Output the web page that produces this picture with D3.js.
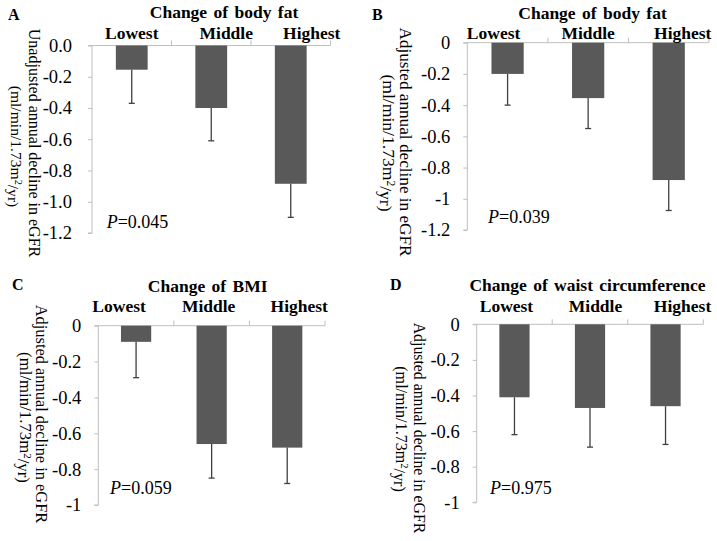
<!DOCTYPE html>
<html><head><meta charset="utf-8">
<script src="https://cdn.jsdelivr.net/npm/d3@7"></script>
<style>
body{margin:0;background:#fff}
text{font-family:"Liberation Serif","Times New Roman",serif;fill:#000}
</style>
</head><body>
<svg id="chart" width="717" height="541"></svg>
<script>
// ---------- data ----------
const categories = ["Lowest", "Middle", "Highest"];
const panelLetters = ["A", "B", "C", "D"];
const panelTitles = ["Change of body fat", "Change of body fat", "Change of BMI", "Change of waist circumference"];
const yLabelLine1 = ["Unadjusted annual decline in eGFR", "Adjusted annual decline in eGFR", "Adjusted annual decline in eGFR", "Adjusted annual decline in eGFR"];
const yLabelLine2 = ["(ml/min/1.73m", "2", "/yr)"];
const meansA = [-0.155, -0.40, -0.885];
const errA   = [0.215, 0.21, 0.215];
const meansB = [-0.20, -0.355, -0.88];
const errB   = [0.20, 0.195, 0.195];
const meansC = [-0.09, -0.66, -0.68];
const errC   = [0.20, 0.19, 0.20];
const meansD = [-0.41, -0.47, -0.46];
const errD   = [0.21, 0.22, 0.215];
const pValues = ["0.045", "0.039", "0.059", "0.975"];
const yTicks12 = [0, -0.2, -0.4, -0.6, -0.8, -1.0, -1.2];
const yTicks10 = [0, -0.2, -0.4, -0.6, -0.8, -1.0];
const yTickLabelsA = ["0.0", "-0.2", "-0.4", "-0.6", "-0.8", "-1.0", "-1.2"];
const yTickLabelsB = ["0", "-0.2", "-0.4", "-0.6", "-0.8", "-1", "-1.2"];
const yTickLabelsCD = ["0", "-0.2", "-0.4", "-0.6", "-0.8", "-1"];

const means = [meansA, meansB, meansC, meansD];
const errs = [errA, errB, errC, errD];
const tickVals = [yTicks12, yTicks12, yTicks10, yTicks10];
const tickLabels = [yTickLabelsA, yTickLabelsB, yTickLabelsCD, yTickLabelsCD];

// ---------- layout ----------
const layout = [
  {x0:92, x1:330.5, y0:45.5, y1:233, pad:16, title:[224,18], letter:[8,20], catY:39, catOff:[0,15,21], p:[106.7,228], yl1:[35,143,16], yl2:[16,146.5,15.6]},
  {x0:467.3, x1:709, y0:42.7, y1:230, pad:13, title:[592.5,19], letter:[372,20], catY:39, catOff:[-14,0,14], p:[488,223], yl1:[406,142,17.2], yl2:[389,143,17.6]},
  {x0:98.3, x1:325, y0:325.7, y1:505, pad:13, title:[207.7,292], letter:[12,290], catY:312, catOff:[-17,-3,12], p:[110,494], yl1:[42,414,16.4], yl2:[26,417.5,16.8]},
  {x0:476.7, x1:703.3, y0:324.3, y1:502.3, pad:13, title:[587.5,291], letter:[390,290], catY:312, catOff:[-8,5.5,17], p:[490,494], yl1:[420,428,15.8], yl2:[402,429,16.1]}
];

const svg = d3.select("#chart");
const axisColor = "#bfbfbf";

layout.forEach((L, i) => {
  const g = svg.append("g");
  const vals = tickVals[i];
  const yMin = d3.min(vals);
  const x = d3.scaleBand().domain(categories).range([L.x0, L.x1]).padding(0);
  const y = d3.scaleLinear().domain([0, yMin]).range([L.y0, L.y1]);
  const bw = x.bandwidth() * 0.4;

  // y axis
  const yAxis = d3.axisLeft(y).tickValues(vals).tickSize(4).tickPadding(L.pad)
    .tickFormat((d, k) => tickLabels[i][k]);
  const ya = g.append("g").attr("transform", `translate(${L.x0},0)`).call(yAxis);
  ya.select(".domain").attr("stroke", axisColor).attr("d", `M-4,${L.y0}H0V${L.y1}H-4`);
  ya.selectAll(".tick line").attr("stroke", axisColor);
  ya.selectAll(".tick text").attr("font-size", 18.5).attr("fill", "#000");

  // x axis at zero (top), ticks pointing up at band boundaries
  const bounds = categories.map(c => x(c)).concat([x(categories[categories.length-1]) + x.bandwidth()]);
  g.append("line").attr("x1", L.x0).attr("x2", L.x1).attr("y1", y(0)).attr("y2", y(0))
    .attr("stroke", axisColor).attr("stroke-width", 1);
  g.selectAll(".xt").data(bounds.slice(1)).join("line")
    .attr("x1", d => d).attr("x2", d => d).attr("y1", y(0)).attr("y2", y(0) - 5)
    .attr("stroke", axisColor);

  // bars
  const data = categories.map((c, k) => ({c, v: means[i][k], e: errs[i][k]}));
  g.selectAll(".bar").data(data).join("rect")
    .attr("x", d => x(d.c) + x.bandwidth()/2 - bw/2)
    .attr("width", bw)
    .attr("y", d => y(0))
    .attr("height", d => y(d.v) - y(0))
    .attr("fill", "#595959");

  // error bars
  g.selectAll(".eb").data(data).join("line")
    .attr("x1", d => x(d.c) + x.bandwidth()/2).attr("x2", d => x(d.c) + x.bandwidth()/2)
    .attr("y1", d => y(d.v)).attr("y2", d => y(d.v - d.e))
    .attr("stroke", "#404040").attr("stroke-width", 1.3);
  g.selectAll(".cap").data(data).join("line")
    .attr("x1", d => x(d.c) + x.bandwidth()/2 - 3).attr("x2", d => x(d.c) + x.bandwidth()/2 + 3)
    .attr("y1", d => y(d.v - d.e)).attr("y2", d => y(d.v - d.e))
    .attr("stroke", "#404040").attr("stroke-width", 1.3);

  // category labels
  g.selectAll(".cat").data(categories).join("text")
    .attr("x", (c, k) => x(c) + x.bandwidth()/2 + L.catOff[k])
    .attr("y", L.catY)
    .attr("text-anchor", "middle").attr("font-weight", "bold").attr("font-size", 17.5)
    .text(c => c);

  // title
  g.append("text").attr("x", L.title[0]).attr("y", L.title[1])
    .attr("text-anchor", "middle").attr("font-weight", "bold").attr("font-size", 17.5)
    .attr("word-spacing", 2)
    .text(panelTitles[i]);

  // panel letter
  g.append("text").attr("x", L.letter[0]).attr("y", L.letter[1])
    .attr("font-weight", "bold").attr("font-size", 16).text(panelLetters[i]);

  // P value
  const pt = g.append("text").attr("x", L.p[0]).attr("y", L.p[1]).attr("font-size", 18);
  pt.append("tspan").attr("font-style", "italic").text("P");
  pt.append("tspan").text("=" + pValues[i]);

  // y label
  g.append("text").attr("transform", `translate(${L.yl1[0]},${L.yl1[1]}) rotate(90)`)
    .attr("text-anchor", "middle").attr("dy", "0.35em").attr("font-size", L.yl1[2])
    .text(yLabelLine1[i]);
  const t2 = g.append("text").attr("transform", `translate(${L.yl2[0]},${L.yl2[1]}) rotate(90)`)
    .attr("text-anchor", "middle").attr("dy", "0.35em").attr("font-size", L.yl2[2]);
  t2.append("tspan").text(yLabelLine2[0]);
  t2.append("tspan").attr("dy", "-0.4em").attr("font-size", L.yl2[2]*0.65).text(yLabelLine2[1]);
  t2.append("tspan").attr("dy", "0.4em").text(yLabelLine2[2]);
});
</script>
</body></html>
